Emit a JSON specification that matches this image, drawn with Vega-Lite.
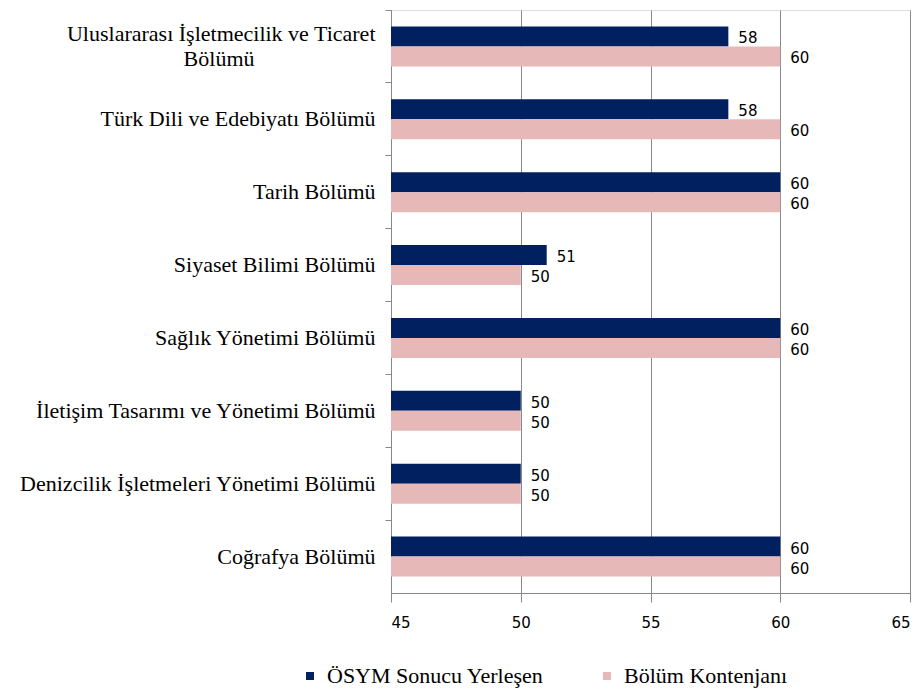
{
  "$schema": "https://vega.github.io/schema/vega-lite/v6.json",
  "width": 519,
  "height": 583,
  "autosize": "none",
  "padding": {"left": 391, "top": 10, "right": 12, "bottom": 96},
  "background": "white",
  "data": {
    "values": [
      {"bolum": "Uluslararası İşletmecilik ve Ticaret Bölümü", "seri": "ÖSYM Sonucu Yerleşen", "deger": 58},
      {"bolum": "Uluslararası İşletmecilik ve Ticaret Bölümü", "seri": "Bölüm Kontenjanı", "deger": 60},
      {"bolum": "Türk Dili ve Edebiyatı Bölümü", "seri": "ÖSYM Sonucu Yerleşen", "deger": 58},
      {"bolum": "Türk Dili ve Edebiyatı Bölümü", "seri": "Bölüm Kontenjanı", "deger": 60},
      {"bolum": "Tarih Bölümü", "seri": "ÖSYM Sonucu Yerleşen", "deger": 60},
      {"bolum": "Tarih Bölümü", "seri": "Bölüm Kontenjanı", "deger": 60},
      {"bolum": "Siyaset Bilimi Bölümü", "seri": "ÖSYM Sonucu Yerleşen", "deger": 51},
      {"bolum": "Siyaset Bilimi Bölümü", "seri": "Bölüm Kontenjanı", "deger": 50},
      {"bolum": "Sağlık Yönetimi Bölümü", "seri": "ÖSYM Sonucu Yerleşen", "deger": 60},
      {"bolum": "Sağlık Yönetimi Bölümü", "seri": "Bölüm Kontenjanı", "deger": 60},
      {"bolum": "İletişim Tasarımı ve Yönetimi Bölümü", "seri": "ÖSYM Sonucu Yerleşen", "deger": 50},
      {"bolum": "İletişim Tasarımı ve Yönetimi Bölümü", "seri": "Bölüm Kontenjanı", "deger": 50},
      {"bolum": "Denizcilik İşletmeleri Yönetimi Bölümü", "seri": "ÖSYM Sonucu Yerleşen", "deger": 50},
      {"bolum": "Denizcilik İşletmeleri Yönetimi Bölümü", "seri": "Bölüm Kontenjanı", "deger": 50},
      {"bolum": "Coğrafya Bölümü", "seri": "ÖSYM Sonucu Yerleşen", "deger": 60},
      {"bolum": "Coğrafya Bölümü", "seri": "Bölüm Kontenjanı", "deger": 60}
    ]
  },
  "encoding": {
    "y": {
      "field": "bolum",
      "type": "nominal",
      "sort": null,
      "title": null,
      "scale": {"paddingInner": 0, "paddingOuter": 0},
      "axis": {
        "bandPosition": 0,
        "domainColor": "#888888",
        "tickColor": "#888888",
        "tickSize": 6,
        "labelFont": "Liberation Serif",
        "labelFontSize": 22,
        "labelColor": "#000000",
        "labelPadding": 10,
        "labelLimit": 400,
        "labelLineHeight": 25,
        "labelBaseline": "middle",
        "labelOffset": {"condition": {"test": "datum.label == 'Uluslararası İşletmecilik ve Ticaret Bölümü'", "value": -12}, "value": 0},
        "labelExpr": "datum.label == 'Uluslararası İşletmecilik ve Ticaret Bölümü' ? ['Uluslararası İşletmecilik ve Ticaret', 'Bölümü\u00a0\u00a0\u00a0\u00a0\u00a0\u00a0\u00a0\u00a0\u00a0\u00a0\u00a0\u00a0\u00a0\u00a0\u00a0\u00a0\u00a0\u00a0\u00a0\u00a0\u00a0\u00a0\u200b'] : datum.label"
      }
    },
    "yOffset": {
      "field": "seri",
      "type": "nominal",
      "sort": ["ÖSYM Sonucu Yerleşen", "Bölüm Kontenjanı"],
      "scale": {"paddingInner": 0, "paddingOuter": 0.82}
    },
    "x": {
      "field": "deger",
      "type": "quantitative",
      "title": null,
      "scale": {"domain": [45, 65], "zero": false, "nice": false},
      "axis": {
        "values": [45, 50, 55, 60, 65],
        "grid": true,
        "gridColor": "#888888",
        "domainColor": "#888888",
        "tickColor": "#888888",
        "tickSize": 9,
        "labelFont": "DejaVu Sans",
        "labelFontSize": 15,
        "labelColor": "#000000",
        "labelPadding": 13
      }
    }
  },
  "layer": [
    {
      "mark": {"type": "bar"},
      "encoding": {
        "x2": {"datum": 45},
        "color": {
          "field": "seri",
          "type": "nominal",
          "sort": ["ÖSYM Sonucu Yerleşen", "Bölüm Kontenjanı"],
          "scale": {"domain": ["ÖSYM Sonucu Yerleşen", "Bölüm Kontenjanı"], "range": ["#002060", "#E6B9B8"]},
          "legend": {
            "title": null,
            "orient": "none",
            "legendX": -92,
            "legendY": 655,
            "direction": "horizontal",
            "columns": 2,
            "columnPadding": 52,
            "symbolType": "square",
            "symbolSize": 64,
            "symbolStrokeWidth": 0,
            "labelFont": "Liberation Serif",
            "labelFontSize": 22,
            "labelColor": "#000000",
            "labelOffset": 6,
            "labelLimit": 400
          }
        }
      }
    },
    {
      "mark": {"type": "text", "align": "left", "baseline": "middle", "dx": 10, "dy": 2, "font": "DejaVu Sans", "fontSize": 15, "color": "#000000"},
      "encoding": {"text": {"field": "deger", "type": "quantitative"}}
    }
  ]
}
